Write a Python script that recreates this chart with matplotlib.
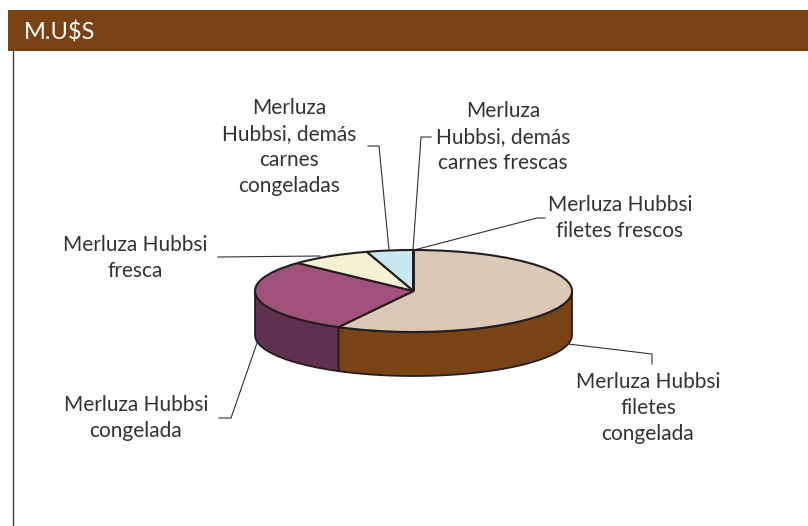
import numpy as np
import matplotlib
matplotlib.use('Agg')
import matplotlib.pyplot as plt
from matplotlib.patches import Rectangle

plt.rcParams['font.family'] = ['Lato', 'DejaVu Sans']

W, H = 808, 526

# clockwise from 12 o'clock
labels = ['Merluza Hubbsi\nfiletes frescos', 'Merluza Hubbsi\nfiletes\ncongelada',
          'Merluza Hubbsi\ncongelada', 'Merluza Hubbsi\nfresca',
          'Merluza\nHubbsi, demás\ncarnes\ncongeladas', 'Merluza\nHubbsi, demás\ncarnes frescas']
values = [0.05, 57.8, 29.1, 8.3, 4.7, 0.05]
top_colors = ['#c8e8f4', '#dcc8b6', '#a0527a', '#f4f2d2', '#c8e8f4', '#c8e8f4']
side_colors = ['#7a4316', '#7a4316', '#5f3050', '#f4f2d2', '#c8e8f4', '#c8e8f4']

label_x = [620, 648, 136, 135, 289, 503]
label_y = [218, 408, 418, 258, 147, 137]
leaders = [
    [(414, 250), (537, 218), (545, 218)],
    [(568, 344), (652, 354), (652, 364)],
    [(257, 343), (231, 418), (219, 418)],
    [(320, 256), (218, 257)],
    [(389, 250), (379, 146), (368, 146)],
    [(413, 250), (421, 137), (431, 137)],
]

cx, cy, rx, ry, depth = 413.5, 291, 158.5, 41, 44

fig = plt.figure(figsize=(W / 100, H / 100), dpi=100)
bg = fig.add_axes([0, 0, 1, 1])
bg.set_xlim(0, W)
bg.set_ylim(H, 0)
bg.axis('off')

# header band and left rule
bg.add_patch(Rectangle((8, 10), W - 8, 41, color='#7a4315', lw=0))
bg.plot([12.5, 12.5], [51, H], color='#333333', lw=0.9)
bg.text(24, 32, 'M.U$S', color='white', fontsize=17, va='center', ha='left')

for pts in leaders:
    xs, ys = zip(*pts)
    bg.plot(xs, ys, color='#333333', lw=0.8, zorder=1)

for t, x, y in zip(labels, label_x, label_y):
    bg.text(x, y, t, ha='center', va='center', fontsize=15, color='#333333',
            linespacing=1.37)

# pie squashed into an ellipse, axes box = ellipse bounding box
ax = fig.add_axes([(cx - rx) / W, 1 - (cy + ry) / H, 2 * rx / W, 2 * ry / H])
wedges, _ = ax.pie(values, colors=top_colors, startangle=90, counterclock=False,
                   radius=1, wedgeprops=dict(edgecolor='#231f20', linewidth=1.5))
ax.set_aspect('auto')
ax.set_xlim(-1, 1)
ax.set_ylim(-1, 1)
ax.patch.set_alpha(0)
for w in wedges:
    w.set_zorder(3)
    w.set_clip_on(False)

# side wall under the front half (pie angles run from 90 down to -270)
d = depth / ry
for w, col in zip(wedges, side_colors):
    lo, hi = max(w.theta1, -180), min(w.theta2, 0)
    if hi <= lo:
        continue
    th = np.radians(np.linspace(lo, hi, 80))
    x, y = np.cos(th), np.sin(th)
    ax.fill(np.r_[x, x[::-1]], np.r_[y, y[::-1] - d], facecolor=col,
            edgecolor='#231f20', linewidth=1.3, zorder=2, clip_on=False)

fig.savefig('out.png', dpi=100)
